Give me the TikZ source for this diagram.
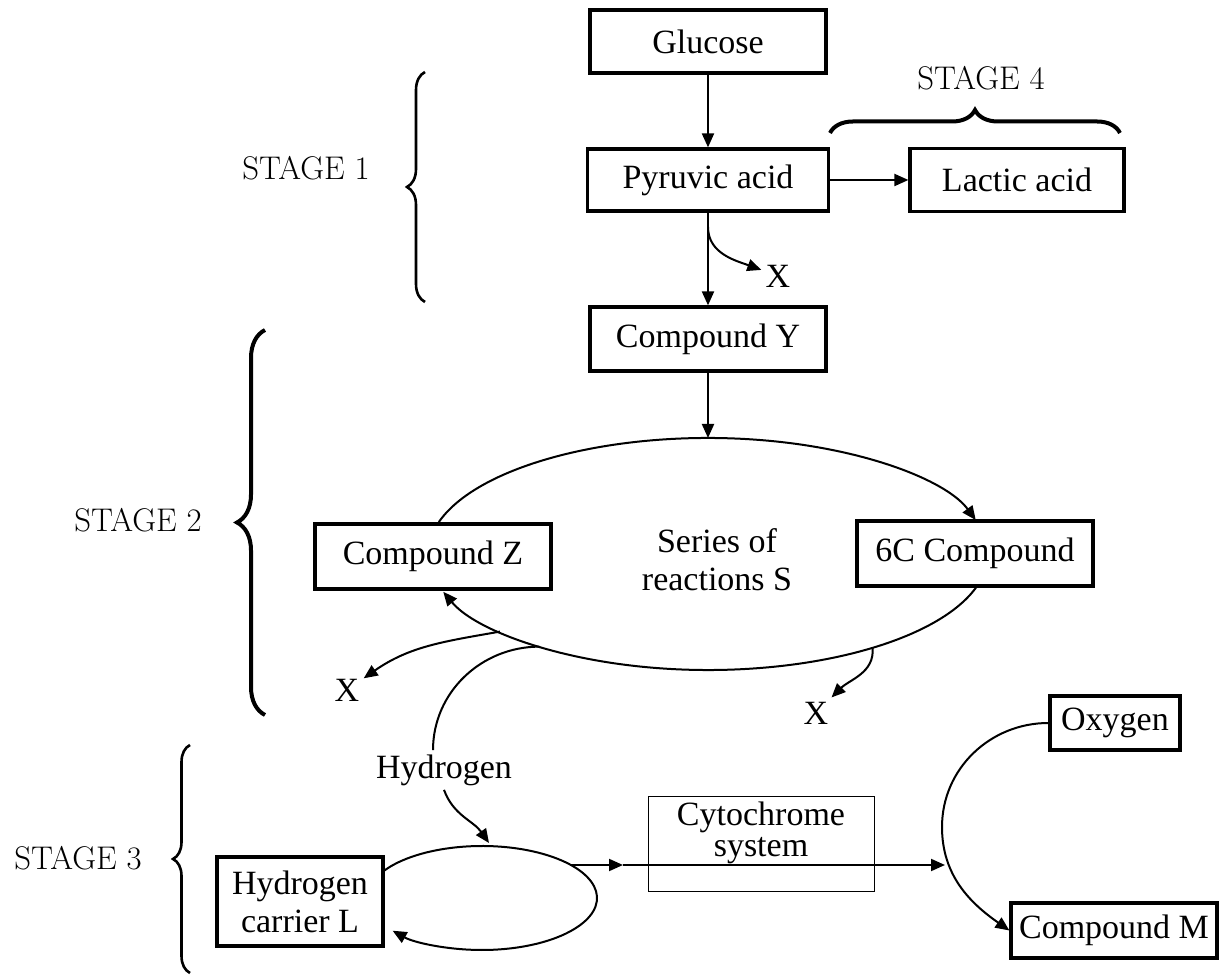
\documentclass[tikz,border=0pt]{standalone}
\usepackage{fontspec}
\newfontfamily\serifbox{Liberation Serif}
\usetikzlibrary{arrows.meta,decorations.pathreplacing,calc}
\newcommand{\boxfont}{\serifbox\fontsize{17}{19}\selectfont}
\newcommand{\cytofont}{\serifbox\fontsize{17}{15.5}\selectfont}
\newcommand{\stagefont}{\fontsize{16.4}{20}\selectfont}

\begin{document}
\begin{tikzpicture}[x=0.5pt,y=0.5pt,
  box/.style={draw,line width=1.6pt,fill=white,inner sep=2pt,font=\boxfont,align=center},
  flow/.style={line width=1pt,-{Triangle[length=7pt,width=6pt]}},
  plain/.style={line width=1pt},
  lbl/.style={font=\boxfont,inner sep=2pt},
  stage/.style={font=\stagefont},
  stagebrace/.style={decorate,decoration={brace,amplitude=#1}}]
\useasboundingbox (0,0) rectangle (1220,974);

% Stage 1 and 4
\node[box,minimum width=118pt,minimum height=31.5pt] (glucose) at (708,932.5) {Glucose};
\node[box,minimum width=120.5pt,minimum height=31pt] (pyruvic) at (708,794) {Pyruvic acid};
\node[box,minimum width=107pt,minimum height=31.5pt] (lactic) at (1017,794) {Lactic acid};
\node[lbl] (xone) at (778,698) {X};
\coordinate (fork) at (708,747);
\draw[flow] (glucose) -- (pyruvic);
\draw[flow] (pyruvic) -- (lactic);
\draw[flow] (fork) to[out=-90,in=160] (xone);
\node[stage] (stageone) at (306,806) {STAGE 1};
\draw[line width=1.3pt,stagebrace=9pt] (425,672) -- (425,902);
\node[stage] (stagefour) at (981,896) {STAGE 4};
\draw[line width=2pt,stagebrace=11.5pt] (830,841) -- (1120,841);

% Stage 2
\node[box,minimum width=118pt,minimum height=32pt] (cmpY) at (708,635) {Compound Y};
\draw[flow] (pyruvic) -- (cmpY);
\coordinate (krebs) at (708,420);
\coordinate (ktop) at (708,536);
\node[lbl,align=center] (series) at (717,414) {Series of\\reactions S};
\node[box,minimum width=118pt,minimum height=32.5pt] (cmpZ) at (433,417.5) {Compound Z};
\node[box,minimum width=118pt,minimum height=32.5pt] (sixC) at (975,420.5) {6C Compound};
\node[lbl] (xtwo) at (347,284) {X};
\node[lbl] (xthree) at (816,261) {X};
\node[lbl] (hydro) at (444,204) {Hydrogen};
\draw[flow] (cmpY) -- (ktop);
\draw[flow] ([shift={(164:140pt and 58pt)}]krebs) arc[start angle=164,end angle=17,x radius=140pt,y radius=58pt];
\draw[flow] ([shift={(-16:140pt and 58pt)}]krebs) arc[start angle=-16,end angle=-161,x radius=140pt,y radius=58pt];
\draw[flow] ([shift={(-138:140pt and 58pt)}]krebs) to[out=190,in=35] (xtwo);
\draw[flow] ([shift={(-54:140pt and 58pt)}]krebs) to[out=-85,in=45] (xthree);
\draw[plain] ([shift={(-127:140pt and 58pt)}]krebs) to[out=180,in=90] ([xshift=-5.5pt]hydro.north);
\node[stage] (stagetwo) at (138,454) {STAGE 2};
\draw[line width=2pt,stagebrace=14pt] (265,259) -- (265,644);

% Stage 3
\node[box,minimum width=83pt,minimum height=44.5pt] (carrier) at (300,72.5) {Hydrogen\\carrier L};
\coordinate (lcyc) at (482,76);
\coordinate (ltop) at (489,131);
\draw[flow] (hydro.south) to[out=-70,in=125] (ltop);
\draw[flow] ([shift={(148:57.5pt and 26pt)}]lcyc) arc[start angle=148,end angle=-141,x radius=57.5pt,y radius=26pt];
\node[draw,line width=0.5pt,minimum width=113pt,minimum height=47.5pt] (cyto) at (761,129.5) {};
\node[lbl,align=center,font=\cytofont] (cytotext) at (761,141) {Cytochrome\\system};
\coordinate (lout) at (571,109);
\coordinate (cytoin) at (623,109);
\coordinate (oxin) at (945,109);
\draw[flow] (lout) -- (cytoin);
\draw[flow] (cytoin) -- (oxin);
\node[box,minimum width=65pt,minimum height=27pt] (oxy) at (1115,251) {Oxygen};
\node[box,minimum width=103pt,minimum height=27.5pt] (cmpM) at (1114,43.5) {Compound M};
\coordinate (oxbend) at (942,147);
\draw[flow] (oxy.west) to[out=180,in=90] (oxbend) to[out=-90,in=145] (cmpM.west);
\node[stage] (stagethree) at (78,116) {STAGE 3};
\draw[line width=1.3pt,stagebrace=8.5pt] (190,1) -- (190,229);
\end{tikzpicture}
\end{document}
